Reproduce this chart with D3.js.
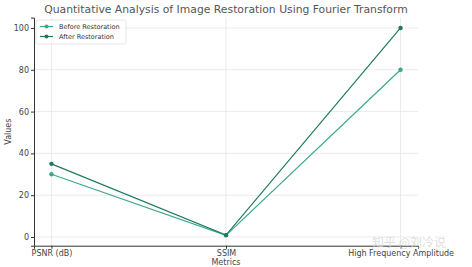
<!DOCTYPE html>
<html>
<head>
<meta charset="utf-8">
<script src="https://cdn.jsdelivr.net/npm/d3@7"></script>
<style>
  body { margin: 0; background: #fff; }
  text { font-family: "DejaVu Sans", sans-serif; }
</style>
</head>
<body>
<div id="chart"></div>
<script>
const metrics = ["PSNR (dB)", "SSIM", "High Frequency Amplitude"]
const beforeValues = [30, 0.8, 80]
const afterValues = [35, 0.9, 100]
const yTicks = [0, 20, 40, 60, 80, 100]
const seriesNames = ["Before Restoration", "After Restoration"]

const width = 472
const height = 267
const plot = { left: 34, right: 418, top: 17.6, bottom: 245.7 }
const colors = { before: "#3aa88b", after: "#1e7a5d" }

const svg = d3.select("#chart").append("svg").attr("width", width).attr("height", height)

const x = d3.scaleLinear().domain([-0.1, 2.1]).range([plot.left, plot.right])
const yMin = 0.8, yMax = 100, pad = (yMax - yMin) * 0.05
const y = d3.scaleLinear().domain([yMin - pad, yMax + pad]).range([plot.bottom, plot.top])

// grid
svg.append("g")
    .selectAll("line")
    .data(yTicks)
    .enter()
    .append("line")
    .attr("x1", plot.left).attr("x2", plot.right)
    .attr("y1", (d) => y(d)).attr("y2", (d) => y(d))
    .attr("stroke", "#e6e6e6").attr("stroke-width", 0.8)

svg.append("g")
    .selectAll("line")
    .data(metrics)
    .enter()
    .append("line")
    .attr("x1", (d, i) => x(i)).attr("x2", (d, i) => x(i))
    .attr("y1", plot.top).attr("y2", plot.bottom)
    .attr("stroke", "#e6e6e6").attr("stroke-width", 0.8)

// axes
const yAxis = svg.append("g")
    .attr("transform", `translate(${plot.left},0)`)
    .call(d3.axisLeft(y).tickValues(yTicks).tickSize(3).tickPadding(2))
yAxis.select(".domain").attr("stroke", "#333").attr("stroke-width", 1)
yAxis.selectAll(".tick line").attr("stroke", "#333")
yAxis.selectAll(".tick text").attr("fill", "#444").style("font-size", "8px")

const xAxis = svg.append("g")
    .attr("transform", `translate(0,${plot.bottom})`)
    .call(d3.axisBottom(x).tickValues([0, 1, 2]).tickFormat((d) => metrics[d]).tickSize(3).tickPadding(1.5))
xAxis.select(".domain").attr("stroke", "#333").attr("stroke-width", 1)
xAxis.selectAll(".tick line").attr("stroke", "#333")
xAxis.selectAll(".tick text").attr("fill", "#444").style("font-size", "8px")

// lines
const line = d3.line().x((d, i) => x(i)).y((d) => y(d))
const series = [
    { name: seriesNames[0], values: beforeValues, color: colors.before },
    { name: seriesNames[1], values: afterValues, color: colors.after },
]

series.forEach((s) => {
    svg.append("path")
        .attr("d", line(s.values))
        .attr("fill", "none")
        .attr("stroke", s.color)
        .attr("stroke-width", 1.2)
    svg.append("g")
        .selectAll("circle")
        .data(s.values)
        .enter()
        .append("circle")
        .attr("cx", (d, i) => x(i))
        .attr("cy", (d) => y(d))
        .attr("r", 2.2)
        .attr("fill", s.color)
})

// title and labels
svg.append("text")
    .attr("x", (plot.left + plot.right) / 2).attr("y", 13)
    .attr("text-anchor", "middle")
    .attr("fill", "#555")
    .style("font-size", "10.8px")
    .text("Quantitative Analysis of Image Restoration Using Fourier Transform")

svg.append("text")
    .attr("x", (plot.left + plot.right) / 2).attr("y", 265)
    .attr("text-anchor", "middle")
    .attr("fill", "#444")
    .style("font-size", "8px")
    .text("Metrics")

svg.append("text")
    .attr("transform", `translate(11,${(plot.top + plot.bottom) / 2}) rotate(-90)`)
    .attr("text-anchor", "middle")
    .attr("fill", "#444")
    .style("font-size", "8px")
    .text("Values")

// legend
const legend = svg.append("g").attr("transform", "translate(36,20)")
legend.append("rect")
    .attr("width", 90).attr("height", 24).attr("rx", 2)
    .attr("fill", "#fff").attr("fill-opacity", 0.8)
    .attr("stroke", "#e0e0e0").attr("stroke-width", 0.8)

series.forEach((s, i) => {
    const g = legend.append("g").attr("transform", `translate(0,${6.5 + i * 10})`)
    g.append("line").attr("x1", 4).attr("x2", 17).attr("stroke", s.color).attr("stroke-width", 1.2)
    g.append("circle").attr("cx", 10.5).attr("r", 2).attr("fill", s.color)
    g.append("text")
        .attr("x", 23).attr("y", 2.2)
        .attr("fill", "#333")
        .style("font-size", "6.5px")
        .text(s.name)
})

// watermark
svg.append("text")
    .attr("x", 372).attr("y", 247)
    .attr("fill", "#d9d9d9")
    .attr("fill-opacity", 0.85)
    .style("font-family", "'Noto Sans CJK SC', sans-serif")
    .style("font-size", "12px")
    .text("知乎 @刘冷说")
</script>
</body>
</html>
